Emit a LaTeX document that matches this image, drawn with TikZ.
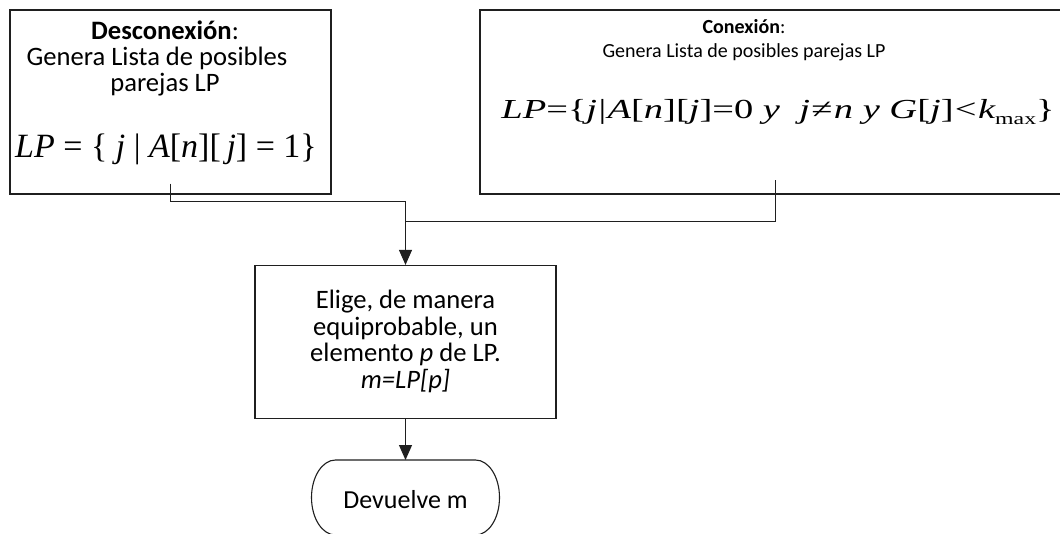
\documentclass[tikz,border=0pt]{standalone}
\usepackage{fontspec}
\setmainfont{Carlito}
\newfontfamily\tnr{Liberation Serif}
\newfontfamily\tnrwide{Liberation Serif}[FakeStretch=1.40]
\usetikzlibrary{arrows.meta,calc}

% italic variable inside the formulas
\newcommand\vv[1]{{\itshape #1}}

\tikzset{
  box/.style={draw=black!88, line width=1.2pt, inner sep=0pt},
  txt/.style={font=\fontsize{26.6}{26.7}\selectfont, inner sep=0pt, anchor=base},
  small/.style={font=\fontsize{20}{24}\selectfont, inner sep=0pt, anchor=base},
  eqA/.style={font=\tnr\fontsize{34}{36}\selectfont, inner sep=0pt, anchor=base},
  eqB/.style={font=\tnrwide\fontsize{27.5}{30}\selectfont, inner sep=0pt, anchor=base},
  flow/.style={draw=black!88, line width=1pt},
  arrowed/.style={flow, -{Triangle[length=15pt,width=13pt]}},
}

\begin{document}
\begin{tikzpicture}[x=1pt, y=-1pt]
\clip (0,0) rectangle (1060,533);
\fill[white] (0,0) rectangle (1060,533);

% disconnection branch
\node[box, minimum width=321pt, minimum height=184pt] (L) at (170.5,102) {};
\node[txt] (Lt1) at (165,39) {\textbf{Desconexión}:};
\node[txt] (Lt2) at (157,65) {Genera Lista de posibles};
\node[txt] (Lt3) at (165,91) {parejas LP};
\node[eqA] (Lf) at (166,157)
  {\vv{LP} = \{ \vv{j} | \vv{A}[\vv{n}][\,\vv{j}] = 1\}};

% connection branch (box runs past the right margin)
\node[box, minimum width=600pt, minimum height=184pt] (R) at (780,102) {};
\node[small] (Rt1) at (744,33) {\textbf{Conexión}:};
\node[small] (Rt2) at (744,57) {Genera Lista de posibles parejas LP};
\node[eqB] (Rf) at (778,118)
  {\vv{LP}=\{\vv{j}\kern.05em|\kern.05em\vv{A}[\vv{n}][\vv{j}]=0 \vv{y}\ \ \vv{j}\kern.05em≠\kern.05em\vv{n} \vv{y} \vv{G}[\vv{j}]\kern.05em<\kern.05em\vv{k}\raisebox{-0.25em}{\fontsize{17}{18}\selectfont max}\}};

% random choice
\node[box, minimum width=301pt, minimum height=153pt] (M) at (405.5,342) {};
\node[txt] (Mt1) at (405.5,308.3) {Elige, de manera};
\node[txt] (Mt2) at (405.5,335) {equiprobable, un};
\node[txt] (Mt3) at (405.5,361.7) {elemento \textit{p} de LP.};
\node[txt] (Mt4) at (405.5,388.3) {\textit{m=LP[p]}};

% terminator
\node[txt, font=\fontsize{26}{26}\selectfont] (T) at (405.5,508) {Devuelve m};
\coordinate (Tc) at (405.5,497.5);
\draw[flow, line width=1.1pt]
  ($(Tc)+(-70,-37.5)$) -- ($(Tc)+(70,-37.5)$)
  arc[start angle=90, end angle=-90, x radius=24pt, y radius=37.5pt]
  -- ($(Tc)+(-70,37.5)$)
  arc[start angle=270, end angle=90, x radius=24pt, y radius=37.5pt] -- cycle;

% connectors
\coordinate (Rs) at (775.7,180);
\draw[arrowed] ([yshift=11pt]L.south) -- ++(0,17.5) -| (M.north);
\draw[flow] (Rs) |- ([yshift=43.5pt]M.north);
\draw[arrowed] (M.south) -- ($(Tc)+(0,-37.5)$);
\end{tikzpicture}
\end{document}
